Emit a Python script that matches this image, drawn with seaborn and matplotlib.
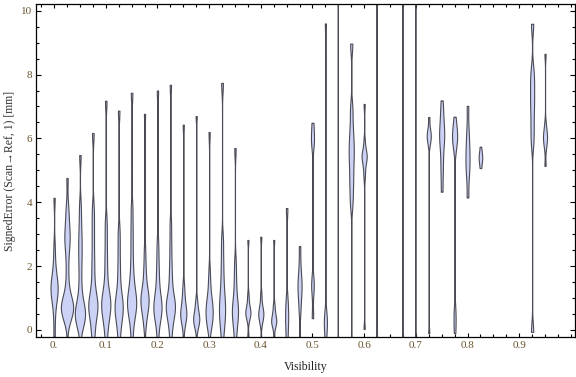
import numpy as np
import pandas as pd
import matplotlib
matplotlib.use("Agg")
import matplotlib.pyplot as plt
from matplotlib.ticker import MultipleLocator
import seaborn as sns

# bin centres on the visibility axis
visibility = [0.0, 0.025, 0.05, 0.075, 0.1, 0.125, 0.15, 0.175, 0.2, 0.225,
              0.25, 0.275, 0.3, 0.325, 0.35, 0.375, 0.4, 0.425, 0.45, 0.475,
              0.5, 0.525, 0.55, 0.575, 0.6, 0.625, 0.675, 0.7, 0.725, 0.75,
              0.775, 0.8, 0.825, 0.925, 0.95]

# signed error samples (mm) read per bin
errors = [
    [-0.2, 0.4, 0.8, 1.0, 1.1, 1.2, 1.3, 1.4, 1.5, 1.6, 1.8, 2.1, 2.6, 4.14],
    [-0.88, 0.2, 0.4, 0.5, 0.6, 0.6, 0.7, 0.7, 0.8, 0.8, 0.9, 1.0, 1.2, 1.5,
     1.9, 2.3, 2.6, 2.8, 2.9, 3.1, 3.3, 3.6, 3.9, 4.76],
    [-1.0, 0.0, 0.2, 0.3, 0.4, 0.5, 0.5, 0.6, 0.7, 0.8, 1.0, 1.3, 1.7, 2.1,
     2.4, 2.7, 3.0, 3.4, 3.9, 5.48],
    [-1.8, -0.3, 0.0, 0.3, 0.5, 0.6, 0.7, 0.8, 0.9, 1.0, 1.2, 1.5, 1.9, 2.3,
     2.8, 3.3, 3.8, 6.17],
    [-1.8, -0.3, 0.1, 0.3, 0.5, 0.6, 0.7, 0.8, 0.9, 1.0, 1.1, 1.3, 1.6, 2.0,
     2.4, 2.9, 3.4, 7.18],
    [-1.8, -0.3, 0.1, 0.3, 0.5, 0.6, 0.7, 0.8, 0.9, 1.1, 1.3, 1.7, 2.1, 2.6,
     3.1, 6.87],
    [-1.8, -0.3, 0.2, 0.4, 0.6, 0.7, 0.8, 0.9, 1.0, 1.1, 1.3, 1.5, 1.8, 2.2,
     2.7, 3.2, 3.8, 7.43],
    [-1.0, 0.1, 0.4, 0.6, 0.7, 0.8, 0.9, 1.0, 1.0, 1.1, 1.2, 1.4, 1.7, 2.0,
     2.5, 6.77],
    [-1.8, -0.3, 0.2, 0.4, 0.5, 0.6, 0.7, 0.8, 0.9, 1.0, 1.2, 1.5, 1.8, 2.2,
     2.7, 7.5],
    [-1.8, -0.3, 0.1, 0.3, 0.5, 0.6, 0.7, 0.7, 0.8, 0.9, 1.0, 1.2, 1.5, 1.8,
     2.2, 2.7, 3.3, 7.68],
    [-0.53, 0.1, 0.3, 0.4, 0.5, 0.5, 0.6, 0.7, 0.9, 1.1, 1.4, 6.43],
    [-0.69, 0.0, 0.15, 0.25, 0.3, 0.35, 0.4, 0.5, 0.6, 0.75, 0.95, 6.7],
    [-1.0, 0.0, 0.2, 0.3, 0.4, 0.5, 0.6, 0.7, 0.8, 0.9, 1.1, 1.4, 1.8, 6.2],
    [-1.8, -0.2, 0.2, 0.4, 0.6, 0.8, 1.0, 1.3, 1.7, 2.2, 2.8, 7.74],
    [-1.8, -0.3, 0.1, 0.3, 0.5, 0.6, 0.7, 0.9, 1.2, 1.6, 2.1, 5.7],
    [-0.22, 0.3, 0.45, 0.5, 0.55, 0.6, 0.7, 0.85, 1.1, 2.82],
    [-0.41, 0.2, 0.35, 0.45, 0.5, 0.55, 0.65, 0.8, 1.1, 2.92],
    [-0.28, 0.1, 0.2, 0.25, 0.3, 0.35, 0.45, 0.6, 0.8, 2.82],
    [-1.8, -0.3, 0.2, 0.5, 0.9, 3.82],
    [-0.85, 0.6, 1.0, 1.3, 1.4, 1.6, 2.0, 2.63],
    [0.37, 1.3, 1.5, 5.9, 6.0, 6.49],
    [-1.8, -0.2, 0.1, 0.3, 0.5, 9.6],
    [-10.0, 25.0],
    [-1.8, 4.0, 4.5, 4.9, 5.3, 5.6, 5.9, 6.3, 6.9, 8.97],
    [0.03, 4.8, 5.1, 5.3, 5.4, 5.45, 5.5, 5.6, 5.9, 7.08],
    [-10.0, 25.0],
    [-10.0, 25.0],
    [-10.0, 25.0],
    [-0.1, 5.8, 5.95, 6.05, 6.1, 6.2, 6.35, 6.67],
    [4.33, 4.9, 5.3, 5.7, 5.95, 6.1, 6.25, 6.5, 6.8, 7.19],
    [-0.1, 0.3, 0.6, 5.7, 5.9, 6.0, 6.1, 6.2, 6.35, 6.68],
    [4.15, 4.8, 5.1, 5.35, 5.6, 5.9, 6.3, 7.02],
    [5.07, 5.22, 5.33, 5.4, 5.47, 5.58, 5.74],
    [-0.06, 5.9, 6.4, 6.9, 7.3, 7.7, 8.1, 9.59],
    [5.14, 5.7, 5.9, 6.0, 6.1, 6.2, 6.45, 8.65],
]

xtick_values = [0.0, 0.1, 0.2, 0.3, 0.4, 0.5, 0.6, 0.7, 0.8, 0.9]
xtick_labels = ["0.", "0.1", "0.2", "0.3", "0.4", "0.5", "0.6", "0.7", "0.8", "0.9"]
ytick_values = [0, 2, 4, 6, 8, 10]

rows = [(v, e) for v, errs in zip(visibility, errors) for e in errs]
df = pd.DataFrame(rows, columns=["Visibility", "SignedError"])

MAX_BW = 0.3  # mm


def robust_bandwidth(kde):
    # Silverman rule on a robust spread, capped so bulges stay narrow
    data = kde.dataset.ravel()
    std = data.std(ddof=1)
    q75, q25 = np.percentile(data, [75, 25])
    spread = min(std, (q75 - q25) / 1.34)
    bw = min(MAX_BW, 0.9 * spread * len(data) ** -0.2)
    return bw / std


sns.set_style("ticks")
plt.rcParams["font.family"] = ["Liberation Serif", "DejaVu Serif"]

fig = plt.figure(figsize=(5.76, 3.77), dpi=100)
ax = fig.add_axes([36 / 576, 40 / 377, 539 / 576, 333 / 377])

sns.violinplot(data=df, x="Visibility", y="SignedError", native_scale=True,
               orient="x", density_norm="count", cut=0,
               bw_method=robust_bandwidth, inner=None, width=0.95,
               color="#cbd2f5", saturation=1, linecolor="#4b4b55",
               linewidth=0.8, gridsize=300, ax=ax)

ax.set_xlim(-0.035, 1.008)
ax.set_ylim(-0.22, 10.21)

ax.set_xticks(xtick_values)
ax.set_xticklabels(xtick_labels)
ax.xaxis.set_minor_locator(MultipleLocator(0.025))
ax.set_yticks(ytick_values)
ax.yaxis.set_minor_locator(MultipleLocator(0.5))

label_color = "#6a5430"
ax.tick_params(which="both", direction="in", top=True, right=True,
               width=0.8, colors="black", labelcolor=label_color, labelsize=8)
ax.tick_params(axis="x", which="major", length=3.2, pad=3)
ax.tick_params(axis="x", which="minor", length=2.2)
ax.tick_params(axis="y", which="major", length=3.6, pad=2.5)
ax.tick_params(axis="y", which="minor", length=2.2)

for spine in ax.spines.values():
    spine.set_linewidth(0.9)
    spine.set_color("black")

ax.set_xlabel("Visibility", fontsize=8.5, labelpad=8, color="#222222")
ax.set_ylabel("SignedError (Scan\u2192Ref, 1) [mm]", fontsize=8.5, labelpad=4,
              color="#333333")

fig.savefig("out.png", dpi=100)
